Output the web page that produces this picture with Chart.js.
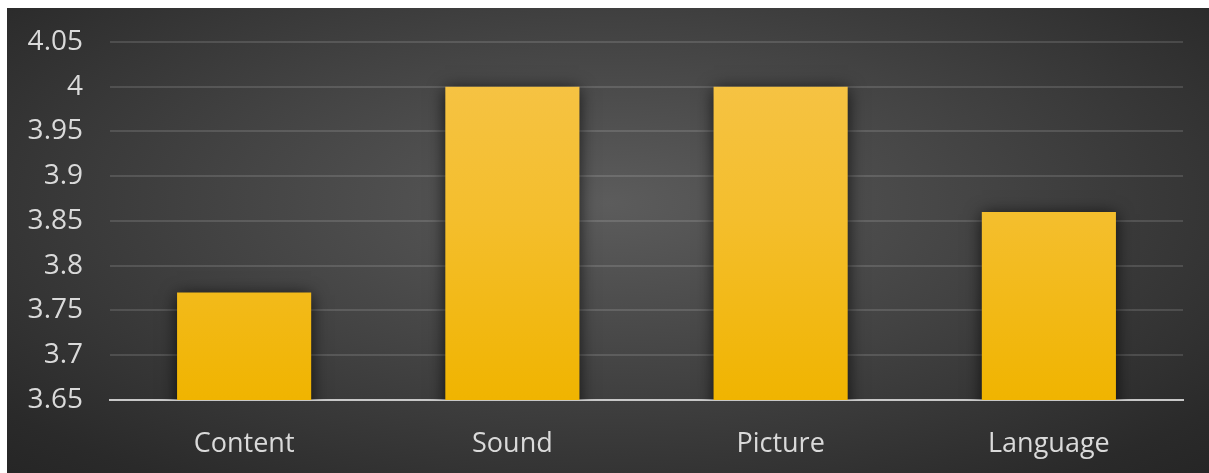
<!DOCTYPE html>
<html>
<head>
<meta charset="utf-8">
<script src="https://cdn.jsdelivr.net/npm/chart.js@4/dist/chart.umd.min.js"></script>
<style>
  html, body { margin: 0; padding: 0; background: #ffffff; width: 1209px; height: 473px; overflow: hidden; }
  #wrap {
    position: absolute; left: 7px; top: 8px; width: 1202px; height: 465px;
    background: radial-gradient(ellipse 75% 85% at 50% 42%, #5c5c5c 0%, #424242 45%, #2a2a2a 85%, #242424 100%);
  }
  canvas { display: block; }
</style>
</head>
<body>
<div id="wrap"><canvas id="c" width="1202" height="465"></canvas></div>
<script>
const categories = ['Content', 'Sound', 'Picture', 'Language'];
const ratings = [3.77, 4.0, 4.0, 3.86];
const yMin = 3.65;
const yMax = 4.05;
const yStep = 0.05;

const shadowPlugin = {
  id: 'barShadow',
  beforeDatasetsDraw(chart) {
    const ctx = chart.ctx;
    ctx.save();
    ctx.shadowColor = 'rgba(0,0,0,0.75)';
    ctx.shadowBlur = 16;
    ctx.shadowOffsetX = 0;
    ctx.shadowOffsetY = 2;
  },
  afterDatasetsDraw(chart) {
    chart.ctx.restore();
  }
};

function barGradient(context) {
  const chart = context.chart;
  const area = chart.chartArea;
  if (!area) return '#f2b600';
  const g = chart.ctx.createLinearGradient(0, area.top, 0, area.bottom);
  g.addColorStop(0, '#f6c44a');
  g.addColorStop(0.5, '#f4be2c');
  g.addColorStop(1, '#f0b400');
  return g;
}

const fam = '"Open Sans", "Noto Sans", sans-serif';

new Chart(document.getElementById('c'), {
  type: 'bar',
  data: {
    labels: categories,
    datasets: [{
      data: ratings,
      backgroundColor: barGradient,
      borderWidth: 0,
      barPercentage: 0.5,
      categoryPercentage: 1.0
    }]
  },
  options: {
    responsive: false,
    animation: false,
    devicePixelRatio: 1,
    layout: { padding: { top: 34, right: 26, left: 0, bottom: 0 } },
    plugins: {
      legend: { display: false },
      tooltip: { enabled: false }
    },
    scales: {
      x: {
        grid: { display: false, drawTicks: false },
        border: { display: true, color: '#c8c8c8', width: 2 },
        ticks: {
          color: '#dadada',
          font: { family: fam, size: 27 },
          padding: 28
        },
        afterFit(scale) {
          scale.height = 73;
          scale.paddingLeft = 0; scale.paddingRight = 0;
        }
      },
      y: {
        min: yMin,
        max: yMax,
        grid: { color: 'rgba(255,255,255,0.13)', lineWidth: 2, drawTicks: false },
        border: { display: false },
        ticks: {
          stepSize: yStep,
          color: '#dadada',
          font: { family: fam, size: 28 },
          padding: 27,
          callback(v) { return Number(v.toFixed(2)).toString(); }
        },
        afterFit(scale) {
          scale.width = 103;
          scale.paddingTop = 0; scale.paddingBottom = 0;
        }
      }
    }
  },
  plugins: [shadowPlugin]
});
</script>
</body>
</html>
